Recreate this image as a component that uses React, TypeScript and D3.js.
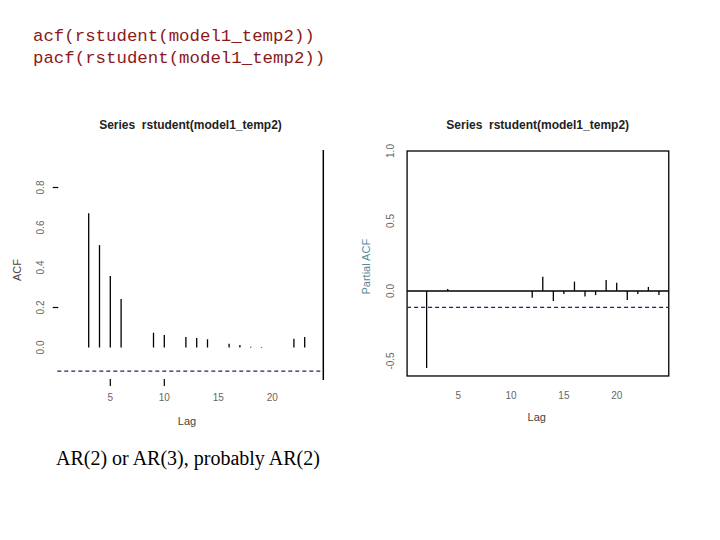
import React from "react";
import * as d3 from "d3";

const headerLines = ["acf(rstudent(model1_temp2))", "pacf(rstudent(model1_temp2))"];
const footerText = "AR(2) or AR(3), probably AR(2)";
const plotTitle = "Series\u00a0\u00a0rstudent(model1_temp2)";

// ACF (left panel) — lags visible and values
const acfLags = [3, 4, 5, 6, 9, 10, 12, 13, 14, 16, 17, 18, 19, 22, 23];
const acfValues = [0.671, 0.512, 0.357, 0.242, 0.074, 0.062, 0.052, 0.047, 0.041, 0.019, 0.012, 0.004, 0.003, 0.044, 0.052];
const acfYTicks = [0.0, 0.2, 0.4, 0.6, 0.8];
const acfYTickMarks = [0.2, 0.8];
const acfXTicks = [5, 10, 15, 20];
const acfXTickMarks = [5, 10];
const acfBand = -0.118;

// PACF (right panel)
const pacfLags = [2, 4, 12, 13, 14, 15, 16, 17, 18, 19, 20, 21, 22, 23, 24];
const pacfValues = [-0.55, 0.014, -0.048, 0.102, -0.071, -0.021, 0.067, -0.04, -0.029, 0.079, 0.059, -0.064, -0.021, 0.029, -0.029];
const pacfYTicks = [-0.5, 0.0, 0.5, 1.0];
const pacfXTicks = [5, 10, 15, 20];
const pacfBand = -0.117;

export default function App() {
  // left panel scales
  const xL = d3.scaleLinear().domain([5, 10]).range([110.3, 164.3]);
  const yL = d3.scaleLinear().domain([0, 0.8]).range([347.5, 187.5]);
  const leftLagMin = xL.invert(57.3);
  const leftLagMax = xL.invert(323.3);

  // right panel scales
  const xR = d3.scaleLinear().domain([5, 20]).range([458.3, 616.7]);
  const yR = d3.scaleLinear().domain([0, 0.5]).range([291, 221]);
  const boxL = xR(0.15), boxR = xR(24.93), boxT = yR(1.0), boxB = yR(-0.607);

  const tickCol = "#666";
  const fontSans = "Liberation Sans, Arial, sans-serif";
  const navy = "#22226a";

  return (
    <svg width={720} height={540} style={{ position: "absolute", left: 0, top: 0, background: "#fff" }}>
      <rect x={0} y={0} width={720} height={540} fill="#fff" />
      {headerLines.map((t, i) => (
        <text key={i} x={33} y={41 + i * 21.5} fontFamily="Liberation Mono, Courier New, monospace" fontSize={17.4} fill="#8b1a1a">{t}</text>
      ))}

      {/* Left ACF panel */}
      <text x={190.5} y={129} textAnchor="middle" fontFamily={fontSans} fontWeight="bold" fontSize={12} fill="#222">{plotTitle}</text>
      {acfLags.map((lag, i) => (
        <line key={i} x1={xL(lag)} x2={xL(lag)} y1={yL(0)} y2={yL(acfValues[i])} stroke="#000" strokeWidth={1.3} />
      ))}
      <line x1={xL(leftLagMax)} x2={xL(leftLagMax)} y1={150} y2={380} stroke="#000" strokeWidth={1.5} />
      <line x1={xL(leftLagMin)} x2={xL(leftLagMax)} y1={yL(acfBand)} y2={yL(acfBand)} stroke={navy} strokeWidth={1.2} strokeDasharray="4,3" />
      {acfYTicks.map((v) => (
        <text key={v} transform={`translate(44,${yL(v)}) rotate(-90)`} textAnchor="middle" fontFamily={fontSans} fontSize={10} fill={tickCol}>{v.toFixed(1)}</text>
      ))}
      {acfYTickMarks.map((v) => (
        <line key={v} x1={52.7} x2={58.3} y1={yL(v)} y2={yL(v)} stroke="#000" strokeWidth={1.2} />
      ))}
      {acfXTicks.map((v) => (
        <text key={v} x={xL(v)} y={401} textAnchor="middle" fontFamily={fontSans} fontSize={10} fill={tickCol}>{v}</text>
      ))}
      {acfXTickMarks.map((v) => (
        <line key={v} x1={xL(v)} x2={xL(v)} y1={379} y2={386} stroke="#000" strokeWidth={1.2} />
      ))}
      <text x={187} y={425} textAnchor="middle" fontFamily={fontSans} fontSize={11} fill="#444">Lag</text>
      <text transform={`translate(21,270) rotate(-90)`} textAnchor="middle" fontFamily={fontSans} fontSize={11} fill="#444">ACF</text>

      {/* Right PACF panel */}
      <text x={537.7} y={129} textAnchor="middle" fontFamily={fontSans} fontWeight="bold" fontSize={12} fill="#222">{plotTitle}</text>
      <rect x={boxL} y={boxT} width={boxR - boxL} height={boxB - boxT} fill="none" stroke="#000" strokeWidth={1.3} />
      <line x1={boxL} x2={boxR} y1={yR(0)} y2={yR(0)} stroke="#000" strokeWidth={1.3} />
      <line x1={boxL} x2={boxR} y1={yR(pacfBand)} y2={yR(pacfBand)} stroke={navy} strokeWidth={1.2} strokeDasharray="4,3" />
      {pacfLags.map((lag, i) => (
        <line key={i} x1={xR(lag)} x2={xR(lag)} y1={yR(0)} y2={yR(pacfValues[i])} stroke="#000" strokeWidth={1.3} />
      ))}
      {pacfYTicks.map((v) => (
        <text key={v} transform={`translate(394,${yR(v)}) rotate(-90)`} textAnchor="middle" fontFamily={fontSans} fontSize={10} fill={tickCol}>{v.toFixed(1)}</text>
      ))}
      {pacfXTicks.map((v) => (
        <text key={v} x={xR(v)} y={399} textAnchor="middle" fontFamily={fontSans} fontSize={10} fill={tickCol}>{v}</text>
      ))}
      <text x={536.7} y={421} textAnchor="middle" fontFamily={fontSans} fontSize={11} fill="#444">Lag</text>
      <text transform={`translate(370,266.7) rotate(-90)`} textAnchor="middle" fontFamily={fontSans} fontSize={11} fill="#5a8a9a">Partial ACF</text>

      <text x={56} y={465} fontFamily="Liberation Serif, Times New Roman, serif" fontSize={20} fill="#000">{footerText}</text>
    </svg>
  );
}
